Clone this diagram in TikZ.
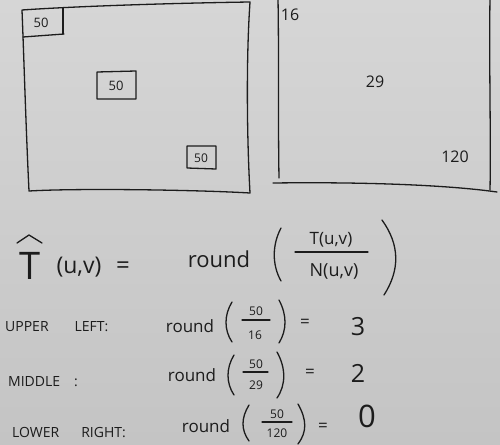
\documentclass[tikz,border=0pt]{standalone}
\usepackage{fontspec}
\setmainfont{Open Sans}
\definecolor{boardtop}{RGB}{214,214,214}
\definecolor{boardbot}{RGB}{196,196,196}
\definecolor{ink}{RGB}{28,28,28}
\tikzset{
  pen/.style={draw=ink, line width=1.3pt, line cap=round, line join=round},
  hw/.style={text=ink, inner sep=0pt, anchor=center},
  fs/.style={font=\fontsize{#1}{#1}\selectfont}
}
\begin{document}
\begin{tikzpicture}[x=1pt,y=-1pt]
\useasboundingbox (0,0) rectangle (500,444);
\shade[top color=boardtop, bottom color=boardbot] (0,0) rectangle (500,444);

% ---------- left box ----------
\draw[pen] (22,10) .. controls (80,6) and (180,3) .. (250,2)
  .. controls (246,60) and (247,140) .. (250,193)
  .. controls (200,190) and (80,188) .. (29,191)
  .. controls (26,130) and (24,60) .. (22,10);
\draw[pen] (63,8) -- (63,34);
\draw[pen] (23,37) -- (64,34);
\node[hw, fs=13] (ul) at (41,23) {50};
\draw[pen] (97,72) -- (136,71) -- (136,99) -- (97,99) -- cycle;
\node[hw, fs=13] (mid) at (116,86) {50};
\draw[pen] (187,146) -- (216,146) -- (216,169) -- (187,168) -- cycle;
\node[hw, fs=12] (lr) at (201,158) {50};

% ---------- right box ----------
\draw[pen] (278,-2) .. controls (279,60) and (278,120) .. (279,178);
\draw[pen] (490,-2) .. controls (489,60) and (491,140) .. (490,190);
\draw[pen] (273,183) .. controls (350,182) and (440,184) .. (497,192);
\node[hw, fs=16] (n16) at (290,15) {16};
\node[hw, fs=16] (n29) at (375,82) {29};
\node[hw, fs=16] (n120) at (455,157) {120};

% ---------- main formula ----------
\node[hw, fs=38] (T) at (30,266) {T};
\draw[pen] (17,243) -- (29,235) -- (42,243);
\node[hw, fs=23] (uv) at (79,267) {(u,v)};
\node[hw, fs=24] (eq0) at (123,268) {=};
\node[hw, fs=22] (round0) at (219,259) {round};
\draw[pen] (281,228) .. controls (272,245) and (272,265) .. (281,281);
\node[hw, fs=17] (num0) at (331,240) {T(u,v)};
\draw[pen] (295,252) -- (368,252);
\node[hw, fs=18] (den0) at (334,271) {N(u,v)};
\draw[pen] (382,220) .. controls (400,245) and (400,270) .. (384,295);

% ---------- row 1 ----------
\node[hw, fs=14, anchor=west] (r1) at (5,327) {UPPER\hspace{26pt}LEFT:};
\node[hw, fs=17] (round1) at (190,326) {round};
\draw[pen] (232,302) .. controls (224,315) and (224,330) .. (232,342);
\node[hw, fs=12] (a1) at (256,311) {50};
\draw[pen] (242,320) -- (270,320);
\node[hw, fs=12] (b1) at (255,335) {16};
\draw[pen] (279,300) .. controls (287,315) and (287,330) .. (279,343);
\node[hw, fs=17] (e1) at (305,323) {=};
\node[hw, fs=25] (v1) at (358,327) {3};

% ---------- row 2 ----------
\node[hw, fs=14, anchor=west] (r2) at (8,382) {MIDDLE\hspace{14pt}:};
\node[hw, fs=17] (round2) at (192,375) {round};
\draw[pen] (234,355) .. controls (226,368) and (226,383) .. (234,395);
\node[hw, fs=12] (a2) at (256,364) {50};
\draw[pen] (243,372) -- (268,372);
\node[hw, fs=12] (b2) at (256,385) {29};
\draw[pen] (277,352) .. controls (286,368) and (286,385) .. (277,398);
\node[hw, fs=17] (e2) at (310,373) {=};
\node[hw, fs=25] (v2) at (358,373) {2};

% ---------- row 3 ----------
\node[hw, fs=14, anchor=west] (r3) at (12,433) {LOWER\hspace{22pt}RIGHT:};
\node[hw, fs=17] (round3) at (206,426) {round};
\draw[pen] (249,405) .. controls (241,418) and (241,430) .. (249,441);
\node[hw, fs=12] (a3) at (277,414) {50};
\draw[pen] (262,422) -- (292,422);
\node[hw, fs=12] (b3) at (277,433) {120};
\draw[pen] (298,404) .. controls (307,420) and (307,432) .. (298,444);
\node[hw, fs=17] (e3) at (323,427) {=};
\node[hw, fs=31] (v3) at (367,416) {0};
\end{tikzpicture}
\end{document}
